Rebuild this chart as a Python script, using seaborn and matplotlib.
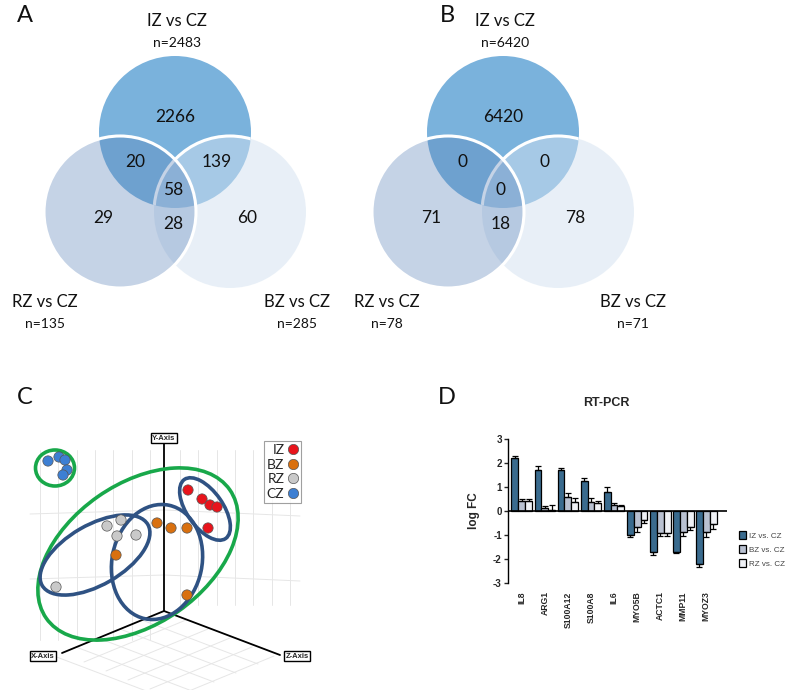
import numpy as np
import pandas as pd
import matplotlib
matplotlib.use("Agg")
import matplotlib.pyplot as plt
from matplotlib.patches import Circle, Ellipse
import seaborn as sns

# ---------------- data ----------------
# venn panels: region order = IZ only, IZ&RZ, IZ&BZ, all three, RZ only, RZ&BZ, BZ only
venn_sets = ["IZ vs CZ", "RZ vs CZ", "BZ vs CZ"]
venn_a_totals = [2483, 135, 285]
venn_a_regions = [2266, 20, 139, 58, 29, 28, 60]
venn_b_totals = [6420, 78, 71]
venn_b_regions = [6420, 0, 0, 0, 71, 18, 78]

# PCA panel (projected coordinates of the 3D view)
pca_groups = ["IZ", "BZ", "RZ", "CZ"]
pca_group = ["CZ"] * 5 + ["IZ"] * 5 + ["BZ"] * 5 + ["RZ"] * 5
pca_x = [48, 59, 65, 67, 63,
         188, 202, 210, 217, 208,
         157, 171, 187, 116, 187,
         107, 121, 117, 136, 56]
pca_y = [71, 67, 70, 80, 85,
         100, 109, 115, 117, 138,
         133, 138, 138, 165, 205,
         136, 130, 146, 145, 197]
pca_colors = {"IZ": "#e8141c", "BZ": "#d9700f", "RZ": "#c9c9c9", "CZ": "#3d7fd3"}

# RT-PCR panel
genes = ["IL8", "ARG1", "S100A12", "S100A8", "IL6", "MYO5B", "ACTC1", "MMP11", "MYOZ3"]
comparisons = ["IZ vs. CZ", "BZ vs. CZ", "RZ vs. CZ"]
iz_fc = [2.2, 1.7, 1.7, 1.25, 0.78, -1.0, -1.7, -1.7, -2.2]
bz_fc = [0.42, 0.12, 0.6, 0.39, 0.26, -0.68, -0.92, -0.89, -0.87]
rz_fc = [0.42, 0.06, 0.39, 0.32, 0.2, -0.36, -0.92, -0.65, -0.56]
iz_err = [0.1, 0.19, 0.08, 0.12, 0.24, 0.1, 0.15, 0.04, 0.12]
bz_err = [0.07, 0.1, 0.15, 0.17, 0.06, 0.18, 0.13, 0.15, 0.23]
rz_err = [0.07, 0.18, 0.14, 0.1, 0.06, 0.12, 0.13, 0.14, 0.21]
bar_colors = ["#2c6d9c", "#b5bfd5", "#eef0f6"]

sns.set_theme(style="white")
CAL = ["Lato", "DejaVu Sans"]
ARI = ["Liberation Sans", "DejaVu Sans"]
plt.rcParams["font.family"] = ARI

fig = plt.figure(figsize=(7.85, 6.9), dpi=100)

# overlay in pixel coords for the venn panels + panel letters
ax_v = fig.add_axes([0, 0, 1, 1])
ax_v.set_xlim(0, 785)
ax_v.set_ylim(690, 0)
ax_v.axis("off")

top_col = (122 / 255, 178 / 255, 220 / 255)
right_col = (210 / 255, 225 / 255, 240 / 255, 0.5)
left_col = (90 / 255, 130 / 255, 185 / 255, 0.35)


def draw_venn(ax, cx, totals, regions, lab_dx):
    r = 76
    top = Circle((cx, 132), r, facecolor=top_col, edgecolor="none", zorder=1)
    ax.add_patch(top)
    ax.add_patch(Circle((cx + 55, 212), r, facecolor=right_col, edgecolor="none", zorder=2))
    rim = Circle((cx + 55, 212), r, fill=False, edgecolor="white", lw=2.2, zorder=2.5)
    ax.add_patch(rim)
    rim.set_clip_path(top)
    ax.add_patch(Circle((cx - 55, 212), r, facecolor=left_col, edgecolor="none", zorder=3))
    ax.add_patch(Circle((cx - 55, 212), r, fill=False, edgecolor="white", lw=2.2, zorder=3.5))

    offs = [(0, 117), (-40, 162), (42, 162), (-2, 190), (-72, 218), (-2, 224), (72, 218)]
    for (dx, y), v in zip(offs, regions):
        ax.text(cx + dx, y, str(v), ha="center", va="center", fontsize=12.5,
                family=CAL, color="#111111", zorder=5)
    lab_pos = [(cx + 2, 21), (cx + lab_dx[0], 302), (cx + lab_dx[1], 302)]
    for (x, y), name, n in zip(lab_pos, venn_sets, totals):
        ax.text(x, y, name, ha="center", va="center", fontsize=12, family=CAL, color="#111111")
        ax.text(x, y + 22, f"n={n}", ha="center", va="center", fontsize=10, family=CAL,
                color="#111111")


draw_venn(ax_v, 175, venn_a_totals, venn_a_regions, (-130, 122))
draw_venn(ax_v, 503, venn_b_totals, venn_b_regions, (-116, 130))

for letter, (x, y) in zip("ABCD", [(25, 16), (447, 16), (25, 398), (447, 398)]):
    ax_v.text(x, y, letter, ha="center", va="center", fontsize=17, family=CAL, color="#111111")

# ---------------- panel C ----------------
ax_c = fig.add_axes([0, 0, 330 / 785, 300 / 690])
ax_c.set_xlim(0, 330)
ax_c.set_ylim(300, 0)
ax_c.axis("off")

grid_kw = dict(color="#e6e6e6", lw=0.7, zorder=0)
for x in np.linspace(40, 150, 7):
    ax_c.plot([x, x], [60, 250], **grid_kw)
for x in np.linspace(180, 290, 7):
    ax_c.plot([x, x], [60, 215], **grid_kw)
for y0 in [120, 185]:
    ax_c.plot([30, 164], [y0 + 4, y0], **grid_kw)
    ax_c.plot([164, 300], [y0, y0 + 6], **grid_kw)
for k in range(6):
    ax_c.plot([164 + 22 * k, 62 + 22 * k], [221 + 9 * k, 263 + 9 * k], **grid_kw)
    ax_c.plot([164 - 22 * k, 280 - 22 * k], [221 + 9 * k, 265 + 9 * k], **grid_kw)

pca = pd.DataFrame({"x": pca_x, "y": pca_y, "group": pca_group})
sns.scatterplot(data=pca, x="x", y="y", hue="group", hue_order=pca_groups,
                palette=pca_colors, s=55, edgecolor="#555555", linewidth=0.5,
                zorder=4, ax=ax_c)

green = "#18a84a"
navy = "#2f5283"
ax_c.add_patch(Ellipse((55, 78), 39, 36, angle=0, fill=False, ec=green, lw=2.6, zorder=3))
ax_c.add_patch(Ellipse((138, 164), 224, 140, angle=-35, fill=False, ec=green, lw=2.6, zorder=3))
ax_c.add_patch(Ellipse((95, 165), 122, 60, angle=-30, fill=False, ec=navy, lw=2.6, zorder=3))
ax_c.add_patch(Ellipse((157, 172), 116, 90, angle=-78, fill=False, ec=navy, lw=2.6, zorder=3))
ax_c.add_patch(Ellipse((205, 119), 72, 36, angle=55, fill=False, ec=navy, lw=2.6, zorder=3))

origin = (164, 221)
for end in [(164, 53), (62, 263), (280, 265)]:
    ax_c.plot([origin[0], end[0]], [origin[1], end[1]], color="black", lw=1.3, zorder=2)
box = dict(boxstyle="square,pad=0.2", fc="white", ec="black", lw=1)
for txt, (x, y) in zip(["Y-Axis", "X-Axis", "Z-Axis"], [(164, 48), (43, 266), (297, 266)]):
    ax_c.text(x, y, txt, ha="center", va="center", fontsize=5.5, fontweight="bold",
              family=ARI, bbox=box, zorder=6)

h, l = ax_c.get_legend_handles_labels()
leg = ax_c.legend(h, l, loc="upper left", bbox_to_anchor=(264 / 330, 1 - 51 / 300),
                  markerfirst=False, frameon=True, fancybox=False, fontsize=10,
                  handletextpad=0.2, labelspacing=0.2, borderpad=0.2,
                  handlelength=0.8, borderaxespad=0)
leg.get_frame().set_edgecolor("#888888")
leg.get_frame().set_linewidth(0.8)
for t in leg.get_texts():
    t.set_family(CAL)

# ---------------- panel D ----------------
ax_d = fig.add_axes([508 / 785, 1 - 583 / 690, (727 - 508) / 785, 144 / 690])
rt = pd.DataFrame({
    "gene": genes * 3,
    "comparison": np.repeat(comparisons, len(genes)),
    "fc": iz_fc + bz_fc + rz_fc,
    "err": iz_err + bz_err + rz_err,
})
sns.barplot(data=rt, x="gene", y="fc", hue="comparison", hue_order=comparisons,
            palette=bar_colors, edgecolor="black", linewidth=0.9, width=0.9,
            errorbar=None, ax=ax_d)

for cont, comp in zip(ax_d.containers, comparisons):
    sub = rt[rt["comparison"] == comp]
    xs = [b.get_x() + b.get_width() / 2 for b in cont]
    ys = sub["fc"].to_numpy()
    e = sub["err"].to_numpy()
    lower = np.where(ys < 0, e, 0)
    upper = np.where(ys >= 0, e, 0)
    ax_d.errorbar(xs, ys, yerr=[lower, upper], fmt="none", ecolor="black",
                  elinewidth=0.9, capsize=2, capthick=0.9, zorder=1)

ax_d.axhline(0, color="black", lw=1.2, zorder=3)
ax_d.set_xlim(-0.6, 8.9)
ax_d.set_ylim(-3, 3)
ax_d.set_yticks(range(-3, 4))
ax_d.set_yticklabels([str(v) for v in range(-3, 4)], fontsize=7, fontweight="bold")
ax_d.set_xticks(range(len(genes)))
ax_d.set_xticklabels(genes, rotation=90, fontsize=6.2, fontweight="bold", va="top")
ax_d.tick_params(axis="x", length=0, pad=6)
ax_d.tick_params(axis="y", length=3, width=1, pad=1.5, left=True)
for s in ["top", "right", "bottom"]:
    ax_d.spines[s].set_visible(False)
ax_d.spines["left"].set_linewidth(1)
ax_d.spines["left"].set_color("black")
ax_d.set_xlabel("")
ax_d.set_ylabel("log FC", fontsize=8.5, fontweight="bold", labelpad=9)
ax_d.set_title("RT-PCR", fontsize=9, fontweight="bold", pad=24, x=0.45)
ax_d.set_facecolor("none")

hd, ld = ax_d.get_legend_handles_labels()
ax_d.get_legend().remove()
fig.legend(hd, ld, loc="upper left", bbox_to_anchor=(739 / 785, 1 - 531 / 690),
           frameon=False, fontsize=5.8, handlelength=0.9, handleheight=1.1,
           labelspacing=0.7, handletextpad=0.3, borderaxespad=0, borderpad=0,
           labelcolor="#444444")

fig.savefig("out.png", dpi=100)
